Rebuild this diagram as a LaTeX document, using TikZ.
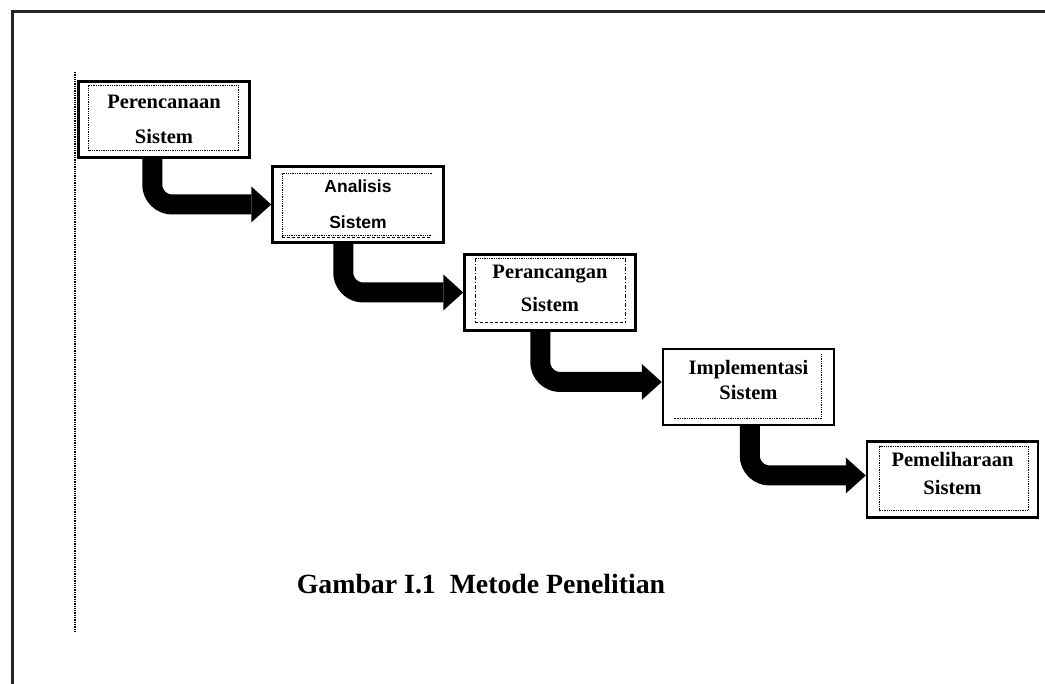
\documentclass[tikz,border=0pt]{standalone}
\usepackage{fontspec}
\setmainfont{Liberation Serif}
\newfontfamily\sansbox{Liberation Sans}
\usetikzlibrary{positioning}
\usetikzlibrary{arrows.meta}
\usetikzlibrary{calc}

\tikzset{
  tahap/.style={draw, line width=2.5pt, minimum width=171pt, minimum height=76pt, inner sep=0pt, align=center},
  serifbox/.style={font=\fontsize{20.5}{#1}\selectfont\bfseries},
  alur/.style={line width=20pt, rounded corners=20pt, -{Triangle[length=20pt,width=36pt,line width=0pt]}},
  titik/.style={line width=1.3pt, densely dotted},
  garis/.style={line width=1pt, densely dashed},
}

\begin{document}
\begin{tikzpicture}[x=1pt, y=-1pt]
\useasboundingbox (0,0) rectangle (1045,684);

% bingkai
\draw[line width=3pt, black!85] (12,684) -- (12,12) -- (1045,12);
\draw[titik] (75,72) -- (75,632);

\node[tahap, serifbox=35pt] (perencanaan) at (164,119.5) {Perencanaan\\Sistem};
\node[tahap, font=\sansbox\bfseries\fontsize{17.5}{36}\selectfont] (analisis) at (358,204.5) {Analisis\\Sistem};
\node[tahap, serifbox=33pt, text depth=8pt] (perancangan) at (550,292.5) {Perancangan\\Sistem};
\node[tahap, serifbox=25pt, text depth=15pt] (implementasi) at (748.5,387) {Implementasi\\Sistem};
\node[tahap, serifbox=28pt, text depth=12pt] (pemeliharaan) at (952.5,479.5) {Pemeliharaan\\Sistem};

% garis dalam
\draw[titik, line width=1pt] ([shift={(11,5)}]perencanaan.north west) rectangle ([shift={(-12,-8)}]perencanaan.south east);
\draw[titik, line width=1pt] ([shift={(-13,8)}]analisis.north east) -- ([shift={(11,8)}]analisis.north west)
    -- ([shift={(11,-7)}]analisis.south west);
\draw[garis] ([shift={(11,-6)}]analisis.south west) -- ([shift={(-13,-6)}]analisis.south east);
\draw[titik, line width=1pt] ([shift={(11,-8)}]analisis.south west) -- ([shift={(-13,-8)}]analisis.south east);
\draw[titik, line width=1pt] ([shift={(12,5)}]perancangan.north west) -- ([shift={(-11,5)}]perancangan.north east);
\draw[garis, dash pattern=on 4pt off 2pt on 1pt off 2pt] ([shift={(12,5)}]perancangan.north west) -- ([shift={(12,-9)}]perancangan.south west)
    ([shift={(-11,5)}]perancangan.north east) -- ([shift={(-11,-9)}]perancangan.south east);
\draw[garis] ([shift={(12,-9)}]perancangan.south west) -- ([shift={(-11,-9)}]perancangan.south east);
\draw[titik, line width=1pt] ([shift={(-14,6)}]implementasi.north east) -- ([shift={(-14,-8)}]implementasi.south east)
    -- ([shift={(12,-8)}]implementasi.south west);
\draw[titik, line width=1pt] ([shift={(14,6)}]pemeliharaan.north west) rectangle ([shift={(-11,-8)}]pemeliharaan.south east);

% panah
\draw[alur] ([xshift=75pt]perencanaan.south west) |- (analisis.west);
\draw[alur] ([xshift=72pt]analisis.south west) |- (perancangan.west);
\draw[alur] ([xshift=77pt]perancangan.south west) |- ([yshift=5pt]implementasi.west);
\draw[alur] ([xshift=88pt]implementasi.south west) |- ([yshift=4pt]pemeliharaan.west);

\node[font=\fontsize{27.8}{33}\selectfont\bfseries, anchor=base] (judul) at (481,593) {Gambar I.1~~Metode Penelitian};

\end{tikzpicture}
\end{document}
